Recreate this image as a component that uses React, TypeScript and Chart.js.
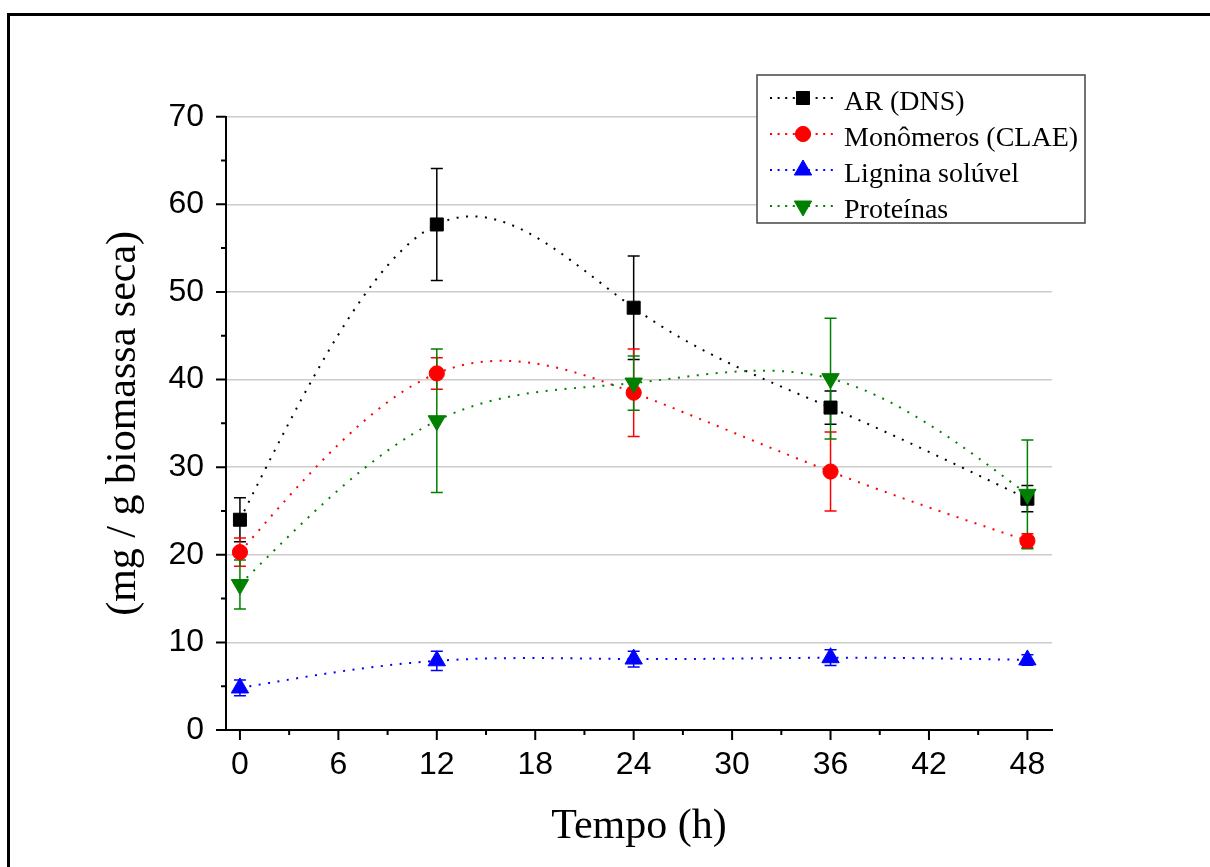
import React, { useEffect, useRef } from "react";
import { Chart, registerables } from "chart.js";

Chart.register(...registerables);

// ---------- data ----------
const hours = [0, 12, 24, 36, 48];
const seriesNames = ["AR (DNS)", "Monômeros (CLAE)", "Lignina solúvel", "Proteínas"];
const arValues = [24.0, 57.7, 48.2, 36.8, 26.4];
const arErrors = [2.5, 6.4, 5.9, 1.9, 1.5];
const monoValues = [20.3, 40.7, 38.5, 29.5, 21.6];
const monoErrors = [1.6, 1.8, 5.0, 4.5, 0.8];
const ligValues = [4.8, 7.9, 8.1, 8.25, 8.0];
const ligErrors = [0.9, 1.1, 0.9, 0.9, 0.6];
const protValues = [16.6, 35.3, 39.6, 40.1, 26.9];
const protErrors = [2.8, 8.2, 3.1, 6.9, 6.2];
const xTicks = [0, 6, 12, 18, 24, 30, 36, 42, 48];
const xMinorTicks = [3, 9, 15, 21, 27, 33, 39, 45];
const yTicks = [0, 10, 20, 30, 40, 50, 60, 70];
const yMinorTicks = [5, 15, 25, 35, 45, 55, 65];

const COLORS = ["#000000", "#ff0000", "#0000ff", "#008000"];
const STYLES = [
  { style: "rect", radius: 9.2, rotation: 0 },
  { style: "circle", radius: 7.6, rotation: 0 },
  { style: "triangle", radius: 10, rotation: 0 },
  { style: "triangle", radius: 10, rotation: 180 },
];
const VALUES = [arValues, monoValues, ligValues, protValues];
const ERRORS = [arErrors, monoErrors, ligErrors, protErrors];

const SANS = "'Liberation Sans', Arial, sans-serif";
const SERIF = "'Liberation Serif', 'Times New Roman', serif";

function drawMarker(ctx: CanvasRenderingContext2D, kind: string, rot: number, r: number, x: number, y: number, color: string) {
  ctx.save();
  ctx.fillStyle = color;
  ctx.strokeStyle = color;
  ctx.lineWidth = 1;
  ctx.beginPath();
  if (kind === "rect") {
    const s = Math.SQRT1_2 * r;
    ctx.rect(x - s, y - s, 2 * s, 2 * s);
  } else if (kind === "circle") {
    ctx.arc(x, y, r, 0, Math.PI * 2);
  } else {
    const base = (rot * Math.PI) / 180;
    for (let k = 0; k < 3; k++) {
      const a = base + (k * 2 * Math.PI) / 3;
      const px = x + Math.sin(a) * r;
      const py = y - Math.cos(a) * r;
      if (k === 0) ctx.moveTo(px, py);
      else ctx.lineTo(px, py);
    }
    ctx.closePath();
  }
  ctx.fill();
  ctx.stroke();
  ctx.restore();
}

// Natural cubic spline (like Origin's "Spline" connector): sets Bezier control
// points of the library's own point elements.
function applyNaturalSpline(pts: any[]) {
  const n = pts.length - 1;
  if (n < 1) return;
  const xs = pts.map((p) => p.x);
  const ys = pts.map((p) => p.y);
  const h: number[] = [];
  for (let i = 0; i < n; i++) h.push(xs[i + 1] - xs[i]);
  const M = new Array(n + 1).fill(0);
  if (n >= 2) {
    const a: number[] = [], b: number[] = [], c: number[] = [], d: number[] = [];
    for (let i = 1; i < n; i++) {
      a.push(h[i - 1]);
      b.push(2 * (h[i - 1] + h[i]));
      c.push(h[i]);
      d.push(6 * ((ys[i + 1] - ys[i]) / h[i] - (ys[i] - ys[i - 1]) / h[i - 1]));
    }
    const m = b.length;
    for (let i = 1; i < m; i++) {
      const w = a[i] / b[i - 1];
      b[i] -= w * c[i - 1];
      d[i] -= w * d[i - 1];
    }
    const sol = new Array(m).fill(0);
    sol[m - 1] = d[m - 1] / b[m - 1];
    for (let i = m - 2; i >= 0; i--) sol[i] = (d[i] - c[i] * sol[i + 1]) / b[i];
    for (let i = 0; i < m; i++) M[i + 1] = sol[i];
  }
  for (let i = 0; i < n; i++) {
    const slope = (ys[i + 1] - ys[i]) / h[i];
    const dl = slope - (h[i] * (2 * M[i] + M[i + 1])) / 6;
    const dr = slope + (h[i] * (M[i] + 2 * M[i + 1])) / 6;
    pts[i].cp2x = xs[i] + h[i] / 3;
    pts[i].cp2y = ys[i] + (dl * h[i]) / 3;
    pts[i + 1].cp1x = xs[i + 1] - h[i] / 3;
    pts[i + 1].cp1y = ys[i + 1] - (dr * h[i]) / 3;
  }
  pts[0].cp1x = xs[0];
  pts[0].cp1y = ys[0];
  pts[n].cp2x = xs[n];
  pts[n].cp2y = ys[n];
}

const splinePlugin = {
  id: "naturalSpline",
  beforeDatasetsDraw(chart: any) {
    chart.data.datasets.forEach((_ds: any, i: number) => {
      const meta = chart.getDatasetMeta(i);
      applyNaturalSpline(meta.data);
      if (meta.dataset) {
        meta.dataset._pointsUpdated = true;
        meta.dataset._path = undefined;
      }
    });
  },
};

const errorBarPlugin = {
  id: "errorBars",
  beforeDatasetsDraw(chart: any) {
    const ctx = chart.ctx as CanvasRenderingContext2D;
    const yScale = chart.scales.y;
    chart.data.datasets.forEach((ds: any, i: number) => {
      const meta = chart.getDatasetMeta(i);
      const errs: number[] = ds.errors;
      if (!errs) return;
      ctx.save();
      ctx.strokeStyle = ds.borderColor;
      ctx.lineWidth = 1.5;
      meta.data.forEach((pt: any, j: number) => {
        const v = ds.data[j].y;
        const e = errs[j];
        const yt = yScale.getPixelForValue(v + e);
        const yb = yScale.getPixelForValue(v - e);
        const x = pt.x;
        ctx.beginPath();
        ctx.moveTo(x, yt);
        ctx.lineTo(x, yb);
        ctx.moveTo(x - 6, yt);
        ctx.lineTo(x + 6, yt);
        ctx.moveTo(x - 6, yb);
        ctx.lineTo(x + 6, yb);
        ctx.stroke();
      });
      ctx.restore();
    });
  },
};

const axisTicksPlugin = {
  id: "axisTicks",
  afterDraw(chart: any) {
    const ctx = chart.ctx as CanvasRenderingContext2D;
    const { x: xs, y: ys } = chart.scales;
    const area = chart.chartArea;
    ctx.save();
    ctx.strokeStyle = "#000";
    ctx.lineWidth = 2;
    ctx.beginPath();
    xTicks.forEach((v) => {
      const px = xs.getPixelForValue(v);
      ctx.moveTo(px, area.bottom);
      ctx.lineTo(px, area.bottom + 10);
    });
    xMinorTicks.forEach((v) => {
      const px = xs.getPixelForValue(v);
      ctx.moveTo(px, area.bottom);
      ctx.lineTo(px, area.bottom + 5);
    });
    yTicks.forEach((v) => {
      const py = ys.getPixelForValue(v);
      ctx.moveTo(area.left, py);
      ctx.lineTo(area.left - 10, py);
    });
    yMinorTicks.forEach((v) => {
      const py = ys.getPixelForValue(v);
      ctx.moveTo(area.left, py);
      ctx.lineTo(area.left - 5, py);
    });
    ctx.stroke();
    ctx.restore();
  },
};

const legendPlugin = {
  id: "boxLegend",
  afterDraw(chart: any) {
    const ctx = chart.ctx as CanvasRenderingContext2D;
    ctx.save();
    ctx.fillStyle = "#fff";
    ctx.fillRect(757, 75, 328, 148);
    ctx.strokeStyle = "#444";
    ctx.lineWidth = 1.5;
    ctx.strokeRect(757, 75, 328, 148);
    seriesNames.forEach((name, i) => {
      const cy = 98 + i * 36;
      ctx.save();
      ctx.strokeStyle = COLORS[i];
      ctx.lineWidth = 2;
      ctx.setLineDash([2, 5.6]);
      ctx.beginPath();
      ctx.moveTo(770, cy);
      ctx.lineTo(836, cy);
      ctx.stroke();
      ctx.restore();
      const st = STYLES[i];
      drawMarker(ctx, st.style, st.rotation, st.radius, 803, cy, COLORS[i]);
      ctx.fillStyle = "#000";
      ctx.font = `28px ${SERIF}`;
      ctx.textAlign = "left";
      ctx.textBaseline = "alphabetic";
      ctx.fillText(name, 844, cy + 12);
    });
    ctx.restore();
  },
};

export default function App() {
  const canvasRef = useRef<HTMLCanvasElement | null>(null);

  useEffect(() => {
    if (!canvasRef.current) return;
    const datasets = seriesNames.map((name, i) => ({
      label: name,
      data: hours.map((h, k) => ({ x: h, y: VALUES[i][k] })),
      errors: ERRORS[i],
      borderColor: COLORS[i],
      backgroundColor: COLORS[i],
      borderWidth: 2,
      borderDash: [2, 7.5],
      tension: 0.4,
      pointStyle: STYLES[i].style,
      pointRadius: STYLES[i].radius,
      pointRotation: STYLES[i].rotation,
      pointBackgroundColor: COLORS[i],
      pointBorderColor: COLORS[i],
      pointBorderWidth: 1,
      order: 4 - i,
      fill: false,
    }));

    const chart = new Chart(canvasRef.current, {
      type: "line",
      data: { datasets } as any,
      options: {
        animation: false,
        responsive: false,
        devicePixelRatio: 1,
        layout: { padding: { top: 116.7, right: 158, bottom: 0, left: 0 } },
        plugins: { legend: { display: false }, tooltip: { enabled: false } },
        scales: {
          x: {
            type: "linear",
            min: -0.85,
            max: 49.5,
            afterBuildTicks: (s: any) => {
              s.ticks = xTicks.map((v) => ({ value: v }));
            },
            afterFit: (s: any) => {
              s.height = 137;
            },
            grid: { display: false, drawTicks: false },
            border: { display: true, color: "#000", width: 2 },
            ticks: {
              padding: 16,
              color: "#000",
              font: { family: SANS, size: 32 },
              maxRotation: 0,
              autoSkip: false,
            },
            title: {
              display: true,
              text: "Tempo (h)",
              color: "#000",
              font: { family: SERIF, size: 42 },
              padding: { top: 0, bottom: 15 },
            },
          },
          y: {
            type: "linear",
            min: 0,
            max: 70,
            afterBuildTicks: (s: any) => {
              s.ticks = yTicks.map((v) => ({ value: v }));
            },
            afterFit: (s: any) => {
              s.width = 226;
            },
            grid: {
              drawTicks: false,
              color: (c: any) => (c.tick && c.tick.value === 0 ? "rgba(0,0,0,0)" : "#cccccc"),
              lineWidth: 1.5,
            },
            border: { display: true, color: "#000", width: 2 },
            ticks: {
              padding: 22,
              color: "#000",
              font: { family: SANS, size: 32 },
              autoSkip: false,
            },
            title: {
              display: true,
              text: "(mg / g biomassa seca)",
              color: "#000",
              font: { family: SERIF, size: 42 },
              padding: { top: 99, bottom: 0 },
            },
          },
        },
      } as any,
      plugins: [splinePlugin, errorBarPlugin, axisTicksPlugin, legendPlugin],
    });
    return () => chart.destroy();
  }, []);

  return (
    <div
      style={{
        position: "fixed",
        left: 0,
        top: 0,
        width: 1210,
        height: 867,
        overflow: "hidden",
        background: "#fff",
      }}
    >
      <canvas ref={canvasRef} width={1210} height={867} style={{ position: "absolute", left: 0, top: 0 }} />
      <div
        style={{
          position: "absolute",
          left: 7,
          top: 13,
          width: 1300,
          height: 1000,
          border: "3px solid #000",
          boxSizing: "border-box",
          pointerEvents: "none",
        }}
      />
    </div>
  );
}
